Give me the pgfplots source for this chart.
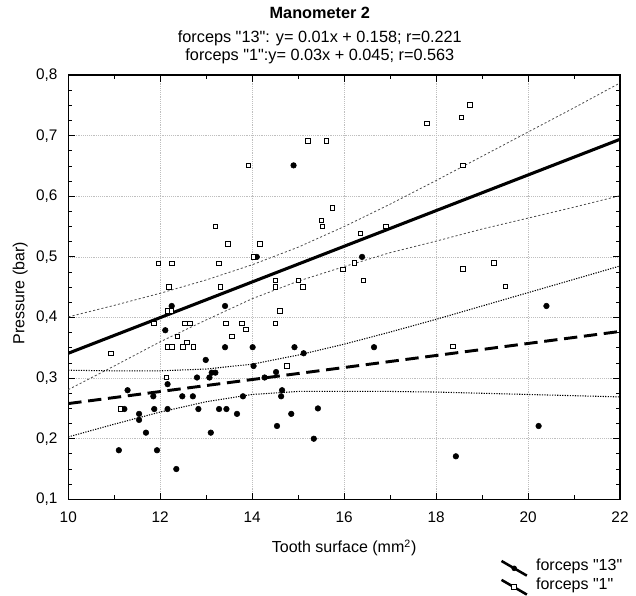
\documentclass[border=0pt]{standalone}
\usepackage{pgfplots}
\pgfplotsset{compat=1.18}
\usepackage{fontspec}
\setmainfont{Liberation Sans}[Ligatures=TeXOff]
\pgfplotsset{slantleg/.style={legend image code/.code={\draw[mark repeat=2, mark phase=2, ##1] plot coordinates {(0pt,4pt) (9.5pt,-1.5pt) (19pt,-7pt)};}}}
\begin{document}
\fontsize{12}{14}\selectfont
\begin{tikzpicture}
\begin{axis}[
  at={(0pt,0pt)}, anchor=south west,
  scale only axis, width=413.8pt, height=318.2pt,
  xmin=10, xmax=22, ymin=0.1, ymax=0.8,
  xtick={10,12,14,16,18,20,22},
  ytick={0.1,0.2,0.3,0.4,0.5,0.6,0.7,0.8},
  minor x tick num=1, minor y tick num=3,
  xtick pos=both, ytick pos=both,
  major tick length=5pt, minor tick length=3pt,
  tick style={black, line width=0.6pt},
  axis line style={line width=0.9pt},
  grid=major, major grid style={densely dotted, black!25, line width=0.4pt},
  tick label style={font=\fontsize{11.5}{13}\selectfont},
  /pgf/number format/assume math mode=true,
  yticklabel style={xshift=-4pt, /pgf/number format/.cd, fixed, fixed zerofill, precision=1, use comma},
  xticklabel style={yshift=-5pt, /pgf/number format/.cd, fixed, precision=0},
  xlabel={Tooth surface (mm\textsuperscript{2})},
  ylabel={Pressure (bar)},
  label style={font=\fontsize{12}{14}\selectfont},
  xlabel style={at={(rel axis cs:0.5,0)}, anchor=center, yshift=-36.5pt},
  ylabel style={at={(rel axis cs:-0.087,0.486)}, anchor=center},
  title={\textbf{Manometer 2}\\[4pt] forceps "13": y= 0.01x + 0.158; r=0.221\\ forceps "1":y= 0.03x + 0.045; r=0.563},
  title style={at={(rel axis cs:0.456,1)}, anchor=south, align=center, yshift=-2pt, font=\fontsize{12.2}{14}\selectfont},
  legend style={draw=none, fill=none, at={(rel axis cs:0.7825,-0.1345)}, anchor=north west,
    font=\fontsize{12}{13}\selectfont, row sep=-1pt, column sep=4pt, inner sep=0pt},
  legend cell align=left,
  clip=true,
]
% confidence band forceps "1" (solid line)
\addplot[forget plot, black!70, line width=0.6pt, dash pattern=on 1.6pt off 1.6pt] coordinates {
(10,0.401)(11,0.420)(12,0.440)(13,0.462)(14,0.487)(15,0.516)(16,0.550)(17,0.587)(18,0.626)(19,0.666)(20,0.706)(21,0.746)(22,0.787)};
\addplot[forget plot, black!70, line width=0.6pt, dash pattern=on 1.6pt off 1.6pt] coordinates {
(10,0.281)(11,0.320)(12,0.360)(13,0.396)(14,0.431)(15,0.460)(16,0.484)(17,0.507)(18,0.526)(19,0.546)(20,0.564)(21,0.582)(22,0.601)};
% confidence band forceps "13" (dashed line)
\addplot[forget plot, black, line width=0.8pt, dash pattern=on 0.9pt off 1pt] coordinates {
(10,0.313)(11,0.312)(12,0.312)(13,0.315)(14,0.323)(15,0.338)(16,0.356)(17,0.376)(18,0.397)(19,0.419)(20,0.441)(21,0.463)(22,0.485)};
\addplot[forget plot, black, line width=0.8pt, dash pattern=on 0.9pt off 1pt] coordinates {
(10,0.203)(11,0.224)(12,0.244)(13,0.261)(14,0.273)(15,0.278)(16,0.278)(17,0.278)(18,0.277)(19,0.275)(20,0.273)(21,0.271)(22,0.269)};
% regression lines
\addplot[forget plot, black, line width=2.3pt] coordinates {(10,0.341)(22,0.694)};
\addplot[forget plot, black, line width=2.2pt, dash pattern=on 10pt off 5pt] coordinates {(10,0.258)(22,0.377)};
% forceps "13" points
\addplot[forget plot, only marks, mark=*, mark size=2.1pt, black] coordinates {
(12.25,0.419)(13.41,0.419)(14.10,0.500)(12.11,0.379)(13.41,0.351)(14.01,0.351)(12.99,0.330)
(13.12,0.309)(13.20,0.309)(14.03,0.320)(12.80,0.301)(13.07,0.301)(12.16,0.290)(11.29,0.280)
(11.85,0.270)(12.48,0.270)(12.71,0.270)(13.80,0.270)(11.22,0.249)(11.87,0.249)(12.16,0.249)
(12.83,0.249)(13.28,0.249)(13.44,0.249)(11.54,0.241)(11.54,0.231)(13.67,0.241)(11.69,0.210)
(13.10,0.210)(11.10,0.181)(11.93,0.181)(12.35,0.150)(14.90,0.651)(16.39,0.500)(14.92,0.351)
(16.65,0.351)(15.12,0.341)(14.52,0.310)(14.27,0.301)(14.65,0.280)(14.63,0.270)(14.85,0.241)
(15.43,0.250)(14.54,0.221)(15.34,0.200)(20.40,0.419)(20.23,0.221)(18.43,0.171)};
% forceps "1" points
\addplot[forget plot, only marks, mark=square*, mark size=1.7pt, black, mark options={fill=white, line width=0.7pt}] coordinates {
(13.92,0.651)(13.20,0.550)(13.47,0.521)(14.17,0.521)(11.96,0.489)(12.25,0.489)(13.28,0.489)
(14.03,0.500)(12.19,0.450)(13.31,0.450)(12.16,0.411)(12.24,0.411)(11.86,0.390)(12.38,0.369)
(12.54,0.390)(12.65,0.390)(12.58,0.359)(12.16,0.351)(12.25,0.351)(12.49,0.351)(12.72,0.351)
(10.93,0.341)(13.43,0.390)(13.78,0.390)(13.56,0.369)(13.86,0.380)(12.14,0.301)(11.14,0.249)
(17.80,0.720)(18.55,0.730)(15.21,0.691)(15.62,0.691)(15.75,0.581)(15.51,0.560)(15.53,0.550)
(16.91,0.550)(16.36,0.539)(16.22,0.490)(15.98,0.479)(14.51,0.461)(15.01,0.461)(16.42,0.461)
(14.51,0.450)(15.11,0.450)(14.60,0.411)(14.51,0.390)(14.76,0.320)(18.74,0.751)(18.59,0.651)
(19.26,0.490)(18.59,0.480)(19.51,0.451)(18.37,0.352)};
% legend
\addlegendimage{slantleg, black, line width=1.9pt, mark=*, mark options={line width=0.5pt, scale=0.9}}
\addlegendentry{forceps "13"}
\addlegendimage{slantleg, black, line width=1.9pt, mark=square*, mark options={fill=white, line width=0.6pt, scale=0.9}}
\addlegendentry{forceps "1"}
\end{axis}
\pgfresetboundingbox
\useasboundingbox (-51.2pt,-72.5pt) rectangle (425.8pt,374.5pt);
\end{tikzpicture}
\end{document}
